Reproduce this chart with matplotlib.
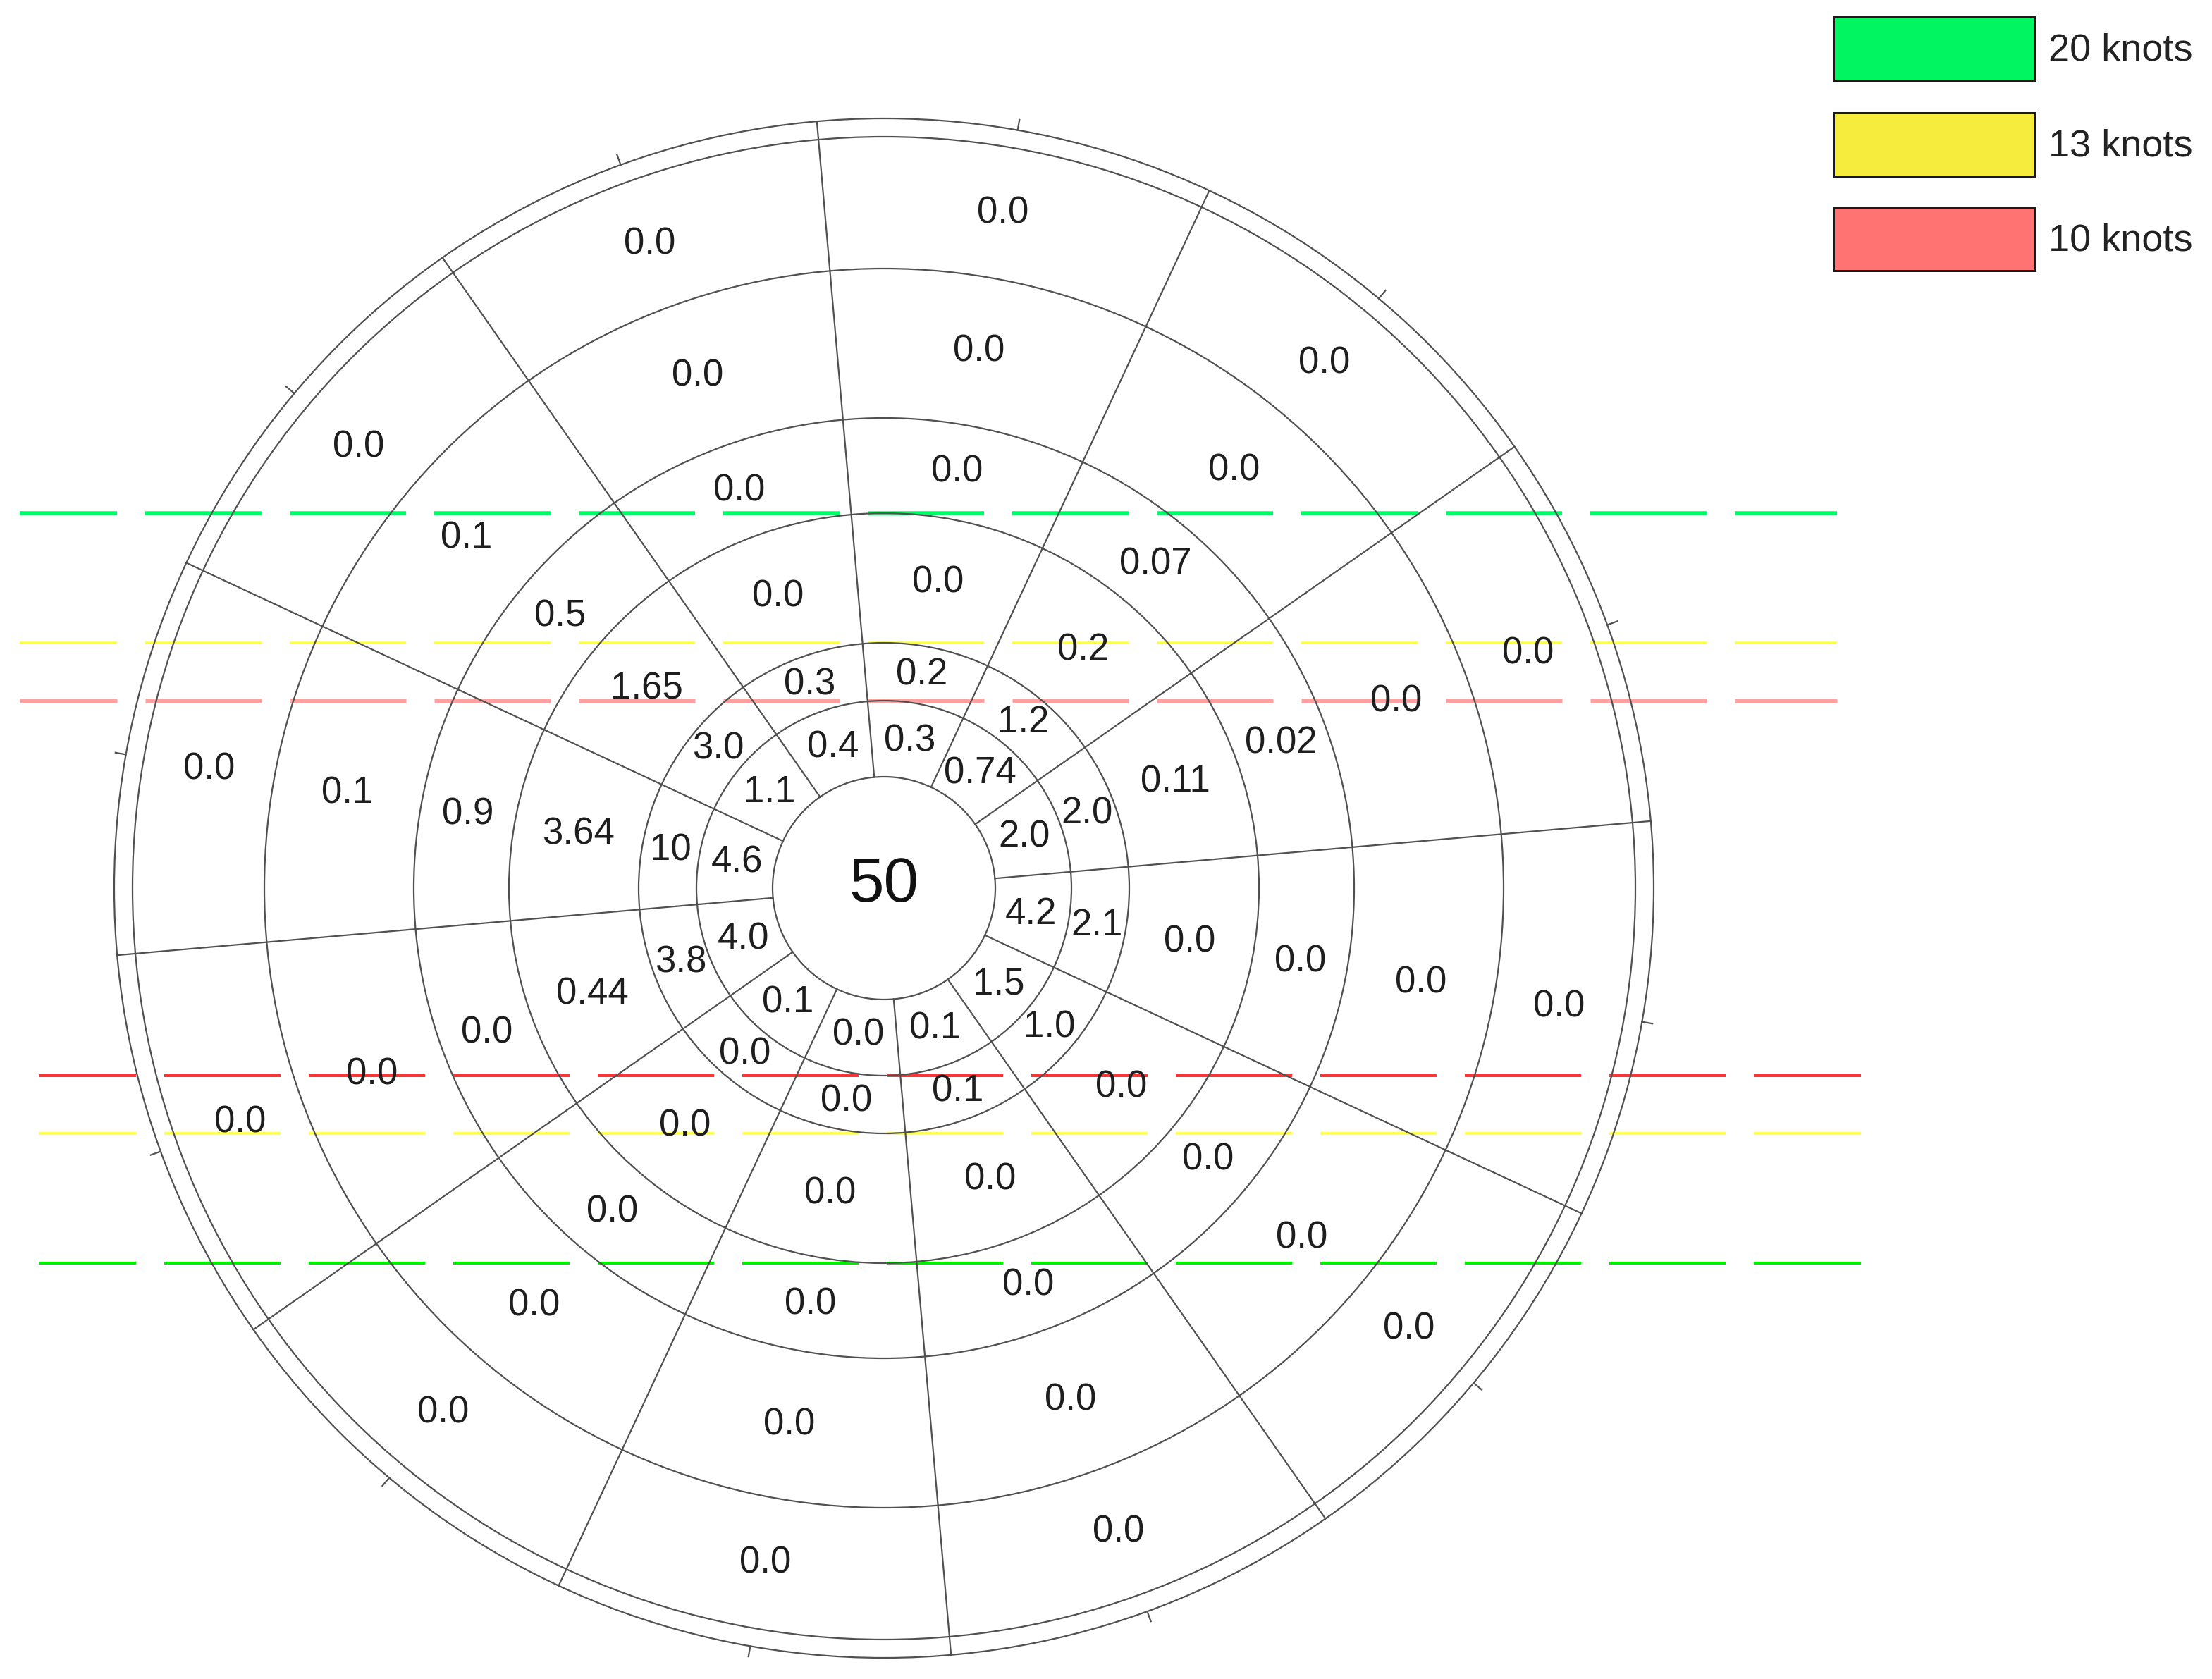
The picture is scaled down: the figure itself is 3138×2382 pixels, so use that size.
import matplotlib
matplotlib.use("Agg")
import matplotlib.pyplot as plt
import numpy as np
from matplotlib.patches import Circle, Rectangle

plt.rcParams['font.family'] = ['Liberation Sans', 'DejaVu Sans']
plt.rcParams['lines.scale_dashes'] = False

# values per ring, inner ring first; each list goes counter-clockwise,
# starting with the sector centred at 20 degrees (east-north-east)
ring_1 = ["2.0", "0.74", "0.3", "0.4", "1.1", "4.6", "4.0", "0.1", "0.0", "0.1", "1.5", "4.2"]
ring_2 = ["2.0", "1.2", "0.2", "0.3", "3.0", "10", "3.8", "0.0", "0.0", "0.1", "1.0", "2.1"]
ring_3 = ["0.11", "0.2", "0.0", "0.0", "1.65", "3.64", "0.44", "0.0", "0.0", "0.0", "0.0", "0.0"]
ring_4 = ["0.02", "0.07", "0.0", "0.0", "0.5", "0.9", "0.0", "0.0", "0.0", "0.0", "0.0", "0.0"]
ring_5 = ["0.0", "0.0", "0.0", "0.0", "0.1", "0.1", "0.0", "0.0", "0.0", "0.0", "0.0", "0.0"]
ring_6 = ["0.0", "0.0", "0.0", "0.0", "0.0", "0.0", "0.0", "0.0", "0.0", "0.0", "0.0", "0.0"]
centre_value = "50"

legend_labels = ["20 knots", "13 knots", "10 knots"]
legend_colors = ["#00f560", "#f5ec3d", "#ff7373"]

rings = [ring_1, ring_2, ring_3, ring_4, ring_5, ring_6]

W, H, DPI = 3138, 2382, 100
PX = 72 / DPI  # points per pixel

cx, cy = 1254, 1260
radii = [158, 266, 348, 532, 667, 879, 1066]
r_out = 1092
n_sect = 12
spoke_deg = 5 + 30 * np.arange(n_sect)
label_deg = spoke_deg + 15

fig = plt.figure(figsize=(W / DPI, H / DPI), dpi=DPI)
ax = fig.add_axes([0, 0, 1, 1])
ax.set_xlim(0, W)
ax.set_ylim(H, 0)
ax.set_aspect('equal')
ax.axis('off')

line_col = '#505050'
lw = 2.2 * PX

# rings
for r in radii + [r_out]:
    ax.add_patch(Circle((cx, cy), r, fill=False, ec=line_col, lw=lw, zorder=2))

# spokes
for d in np.deg2rad(spoke_deg):
    ax.plot([cx + radii[0] * np.cos(d), cx + r_out * np.cos(d)],
            [cy - radii[0] * np.sin(d), cy - r_out * np.sin(d)],
            color=line_col, lw=lw, zorder=2)

# small ticks on the outer circle
for d in np.deg2rad(label_deg):
    ax.plot([cx + r_out * np.cos(d), cx + (r_out + 15) * np.cos(d)],
            [cy - r_out * np.sin(d), cy - (r_out + 15) * np.sin(d)],
            color=line_col, lw=lw, zorder=2)

# threshold lines (dashed), above and below the centre
dash = (27 * PX, (165 * PX, 40 * PX))
upper = [(radii[3], '#00fa68', 5.5), (radii[2], '#ffff40', 3.5), (radii[1], '#ffa0a0', 7)]
lower = [(radii[1], '#ff3535', 4), (radii[2], '#ffff50', 4), (radii[3], '#00ee00', 4)]
for r, c, w in upper:
    ax.plot([28, 2606], [cy - r, cy - r], color=c, lw=w * PX, ls=dash, zorder=1,
            solid_capstyle='butt', dash_capstyle='butt')
for r, c, w in lower:
    ax.plot([55, 2640], [cy + r, cy + r], color=c, lw=w * PX, ls=dash, zorder=1,
            solid_capstyle='butt', dash_capstyle='butt')

# sector labels
for i, vals in enumerate(rings):
    rm = (radii[i] + radii[i + 1]) / 2
    for d, v in zip(np.deg2rad(label_deg), vals):
        ax.text(cx + rm * np.cos(d), cy - rm * np.sin(d), v, fontsize=38,
                ha='center', va='center', color='#1e1e1e', zorder=3)

ax.text(cx, cy - 4, centre_value, fontsize=64, ha='center', va='center',
        color='#111111', zorder=3)

# legend
box_y = [24, 160, 294]
for y, lab, col in zip(box_y, legend_labels, legend_colors):
    ax.add_patch(Rectangle((2601, y), 286, 90, fc=col, ec='#1a1a1a', lw=3 * PX, zorder=3))
    ax.text(2906, y + 47, lab, fontsize=39, ha='left', va='center', color='#222222')

fig.savefig('out.png', dpi=DPI, facecolor='white')
